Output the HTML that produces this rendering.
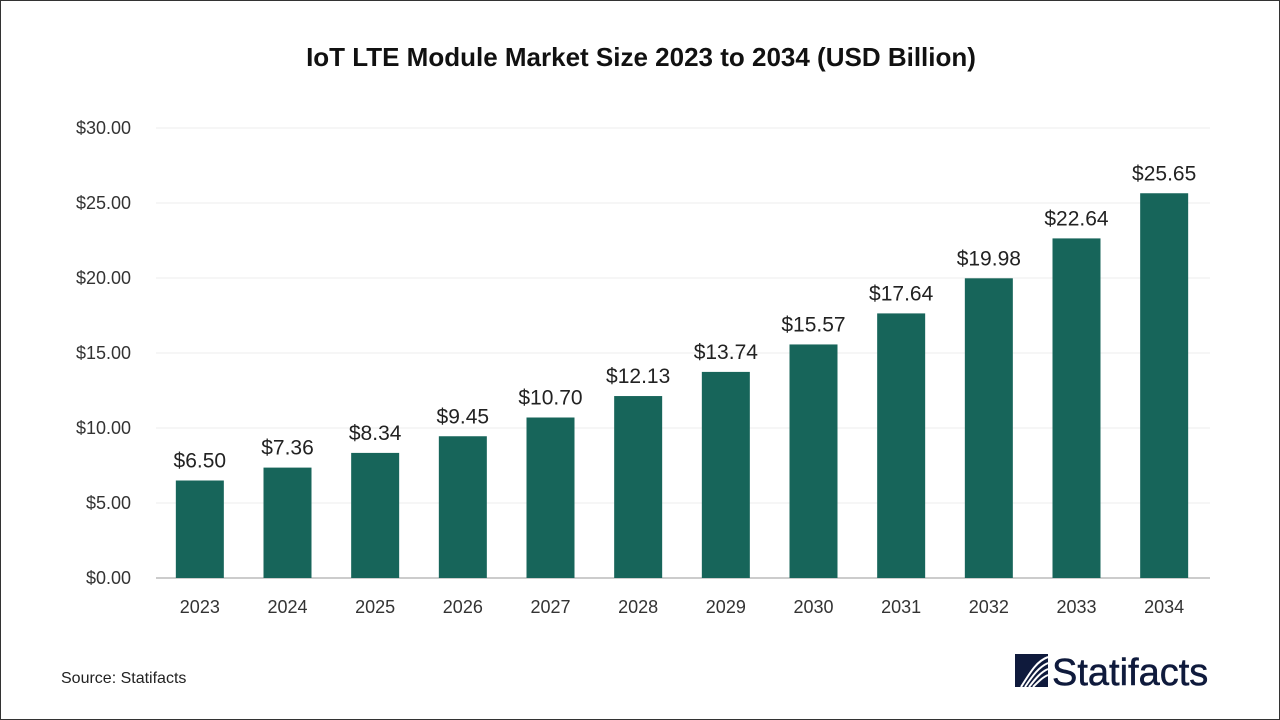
<!DOCTYPE html>
<html><head><meta charset="utf-8">
<style>
html,body{margin:0;padding:0;background:#fff;}
#wrap{position:relative;width:1278px;height:718px;border:1px solid #333;overflow:hidden;font-family:"Liberation Sans",sans-serif;}
</style></head>
<body>
<div id="wrap">
<svg id="chart" width="1278" height="718">
  <text x="640" y="65" text-anchor="middle" font-size="26" font-weight="bold" fill="#111">IoT LTE Module Market Size 2023 to 2034 (USD Billion)</text>
  <g id="grid"></g><g id="bars"></g><g id="xlabels"></g><g id="ylabels"></g>
  <text x="60" y="682" font-size="16" fill="#222">Source: Statifacts</text>
  <g>
    <rect x="1014" y="653" width="33" height="33" fill="#0f1a3c"/>
    <path d="M1020 686 C1030 670,1036 660,1047 656 M1024 686 C1032 674,1038 666,1047 662 M1028 686 C1035 677,1040 671,1047 668 M1032 686 C1038 680,1042 676,1047 674" stroke="#fff" stroke-width="2" fill="none"/>
    <text x="1051" y="684" font-size="38" fill="#0f1a3c" stroke="#0f1a3c" stroke-width="0.5">Statifacts</text>
  </g>
</svg>
</div>
<script>
const categories=["2023","2024","2025","2026","2027","2028","2029","2030","2031","2032","2033","2034"];
const values=[6.50,7.36,8.34,9.45,10.70,12.13,13.74,15.57,17.64,19.98,22.64,25.65];
const valueLabels=["$6.50","$7.36","$8.34","$9.45","$10.70","$12.13","$13.74","$15.57","$17.64","$19.98","$22.64","$25.65"];
const yTicks=[0,5,10,15,20,25,30];
const yTickLabels=["$0.00","$5.00","$10.00","$15.00","$20.00","$25.00","$30.00"];
const NS="http://www.w3.org/2000/svg";
const plotLeft=155,plotRight=1207,plotTop=127,plotBottom=577,yMax=30;
const band=(plotRight-plotLeft)/categories.length,barW=48;
function yScale(v){return plotBottom-(v/yMax)*(plotBottom-plotTop);}
function xCenter(i){return plotLeft+band*(i+0.5);}
function mk(tag,attrs,parent){const e=document.createElementNS(NS,tag);for(const k in attrs)e.setAttribute(k,attrs[k]);parent.appendChild(e);return e;}
const gridG=document.getElementById('grid'),barsG=document.getElementById('bars'),xlG=document.getElementById('xlabels'),ylG=document.getElementById('ylabels');
yTicks.forEach((t,i)=>{
  const l=mk('line',{x1:plotLeft,x2:plotRight+2,y1:yScale(t),y2:yScale(t),stroke:t===0?'#bbb':'#eee','stroke-width':t===0?1.5:1},gridG);
  
  
  const tx=mk('text',{x:130,y:yScale(t)+6,'text-anchor':'end','font-size':18,fill:'#333'},ylG);
  tx.textContent=yTickLabels[i];
  
  
});
categories.forEach((c,i)=>{
  const r=mk('rect',{x:xCenter(i)-barW/2,y:yScale(values[i]),width:barW,height:plotBottom-yScale(values[i]),fill:'#17655a'},barsG);
  
  
  const vl=mk('text',{x:xCenter(i),y:yScale(values[i])-13,'text-anchor':'middle','font-size':21,fill:'#222'},barsG);
  vl.textContent=valueLabels[i];
  
  
  const xt=mk('text',{x:xCenter(i),y:612,'text-anchor':'middle','font-size':18,fill:'#333'},xlG);
  xt.textContent=c;
  
  
});
</script>
</body></html>
